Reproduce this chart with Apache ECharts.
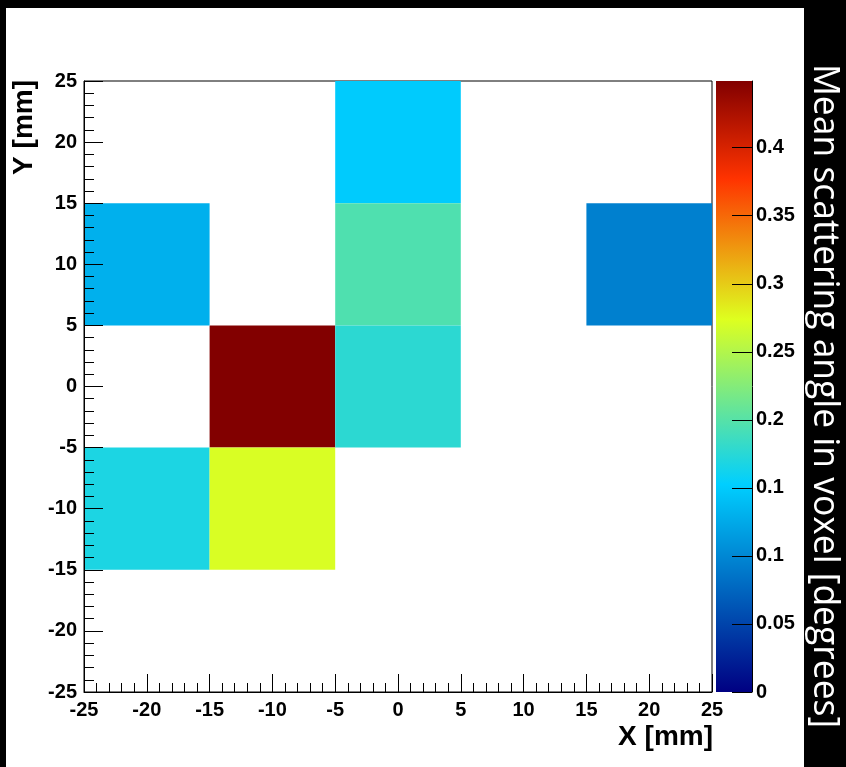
<!DOCTYPE html>
<html>
<head>
<meta charset="utf-8">
<script src="https://cdn.jsdelivr.net/npm/echarts@6/dist/echarts.min.js"></script>
<style>
  html, body { margin: 0; padding: 0; background: #000; }
  #main { width: 846px; height: 767px; }
</style>
</head>
<body>
<div id="main"></div>
<script>
// voxel bins (10 mm wide), given by their centres
const binWidth = 10;
const cellX = [0, -20, 0, 20, -10, 0, -20, -10];
const cellY = [20, 10, 10, 10, 0, 0, -10, -10];
const cellValue = [0.150, 0.130, 0.196, 0.094, 0.449, 0.177, 0.168, 0.271];

const axisMin = -25;
const axisMax = 25;
const zMin = 0;
const zMax = 0.449;
const colorbarTickValues = [0, 0.05, 0.1, 0.15, 0.2, 0.25, 0.3, 0.35, 0.4];
const colorbarTickLabels = ['0', '0.05', '0.1', '0.1', '0.2', '0.25', '0.3', '0.35', '0.4'];

// palette (root style gradient)
const paletteStops = [0.00, 0.34, 0.61, 0.84, 1.00];
const paletteRed   = [0.00, 0.00, 0.87, 1.00, 0.51];
const paletteGreen = [0.00, 0.81, 1.00, 0.20, 0.00];
const paletteBlue  = [0.51, 1.00, 0.12, 0.00, 0.00];

function toRgb(i) {
    const c = [paletteRed[i], paletteGreen[i], paletteBlue[i]].map(v => Math.round(v * 255));
    return 'rgb(' + c.join(',') + ')';
}
function paletteAt(t) {
    let i = 0;
    while (i < paletteStops.length - 2 && t > paletteStops[i + 1]) i++;
    const f = (t - paletteStops[i]) / (paletteStops[i + 1] - paletteStops[i]);
    const mix = (a) => Math.round((a[i] + (a[i + 1] - a[i]) * f) * 255);
    return 'rgb(' + mix(paletteRed) + ',' + mix(paletteGreen) + ',' + mix(paletteBlue) + ')';
}
const sampledColors = [];
for (let k = 0; k <= 200; k++) sampledColors.push(paletteAt(k / 200));
const gradientStops = paletteStops.map((s, i) => ({ offset: s, color: toRgb(i) }));

const cells = cellX.map((x, i) => [x, cellY[i], cellValue[i]]);

const labelFont = { fontFamily: 'Liberation Sans, Arial, sans-serif', fontWeight: 'bold', fontSize: 20, color: '#000' };

// right hand title, squeezed to the length used in the picture
const sideTitle = 'Mean scattering angle in voxel [degrees]';
const sideFont = '37px "Open Sans"';
const ctx = document.createElement('canvas').getContext('2d');
ctx.font = sideFont;
const sideScale = 664 / ctx.measureText(sideTitle).width;

const chart = echarts.init(document.getElementById('main'));
chart.setOption({
    animation: false,
    visualMap: {
        show: false,
        type: 'continuous',
        min: zMin,
        max: zMax,
        dimension: 2,
        seriesIndex: 0,
        inRange: { color: sampledColors }
    },
    grid: [
        { left: 84, top: 81, width: 628, height: 611, show: true, borderColor: '#000', borderWidth: 1, backgroundColor: 'transparent' },
        { left: 716, top: 81, width: 36, height: 611 }
    ],
    xAxis: [
        {
            type: 'value', gridIndex: 0, min: axisMin, max: axisMax, interval: 5, z: 5,
            axisLine: { onZero: false, lineStyle: { color: '#000', width: 1 } },
            axisTick: { inside: true, length: 18, lineStyle: { color: '#000' } },
            minorTick: { show: true, splitNumber: 5, length: 9, lineStyle: { color: '#000' } },
            splitLine: { show: false },
            axisLabel: Object.assign({ margin: 8 }, labelFont)
        },
        { type: 'value', gridIndex: 1, min: 0, max: 1, show: false, axisLine: { onZero: false } }
    ],
    yAxis: [
        {
            type: 'value', gridIndex: 0, min: axisMin, max: axisMax, interval: 5, z: 5,
            axisLine: { onZero: false, lineStyle: { color: '#000', width: 1 } },
            axisTick: { inside: true, length: 19, lineStyle: { color: '#000' } },
            minorTick: { show: true, splitNumber: 5, length: 10, lineStyle: { color: '#000' } },
            splitLine: { show: false },
            axisLabel: Object.assign({ margin: 7, padding: [12, 0, 0, 0] }, labelFont)
        },
        {
            type: 'value', gridIndex: 1, min: zMin, max: zMax, position: 'right', z: 5,
            axisLine: { show: true, onZero: false, lineStyle: { color: '#000', width: 1 } },
            axisTick: { inside: true, length: 20, customValues: colorbarTickValues, lineStyle: { color: '#000' } },
            splitLine: { show: false },
            axisLabel: Object.assign({
                margin: 4, padding: [4, 0, 0, 0],
                customValues: colorbarTickValues,
                formatter: function (v) {
                    const i = colorbarTickValues.findIndex(t => Math.abs(t - v) < 1e-6);
                    return i < 0 ? '' : colorbarTickLabels[i];
                }
            }, labelFont)
        }
    ],
    series: [
        {
            type: 'custom',
            xAxisIndex: 0,
            yAxisIndex: 0,
            z: 2,
            encode: { x: 0, y: 1 },
            data: cells,
            renderItem: function (params, api) {
                const x = api.value(0), y = api.value(1);
                const p0 = api.coord([x - binWidth / 2, y + binWidth / 2]);
                const p1 = api.coord([x + binWidth / 2, y - binWidth / 2]);
                return {
                    type: 'rect',
                    shape: { x: p0[0], y: p0[1], width: p1[0] - p0[0], height: p1[1] - p0[1] },
                    style: { fill: api.visual('color') }
                };
            }
        },
        {
            // colour scale
            type: 'custom',
            xAxisIndex: 1,
            yAxisIndex: 1,
            z: 2,
            encode: { y: [0, 1] },
            data: [[zMin, zMax]],
            renderItem: function (params, api) {
                const p0 = api.coord([0, api.value(1)]);
                const p1 = api.coord([1, api.value(0)]);
                return {
                    type: 'rect',
                    shape: { x: p0[0], y: p0[1], width: p1[0] - p0[0], height: p1[1] - p0[1] },
                    style: { fill: new echarts.graphic.LinearGradient(0, 1, 0, 0, gradientStops) }
                };
            }
        }
    ],
    graphic: [
        { type: 'rect', z: -10, silent: true, shape: { x: 6, y: 8, width: 798, height: 759 }, style: { fill: '#fff' } },
        {
            type: 'text', z: 10, x: 713, y: 723,
            style: { text: 'X [mm]', fill: '#000', font: 'bold 28px "Liberation Sans", Arial, sans-serif', align: 'right', verticalAlign: 'top' }
        },
        {
            type: 'text', z: 10, x: 24.5, y: 80, rotation: Math.PI / 2,
            style: { text: 'Y [mm]', fill: '#000', font: 'bold 28px "Liberation Sans", Arial, sans-serif', align: 'right', verticalAlign: 'middle' }
        },
        {
            type: 'text', z: 10, x: 825, y: 64, rotation: -Math.PI / 2, scaleX: sideScale,
            style: { text: sideTitle, fill: '#fff', font: sideFont, align: 'left', verticalAlign: 'middle' }
        }
    ]
});
</script>
</body>
</html>
